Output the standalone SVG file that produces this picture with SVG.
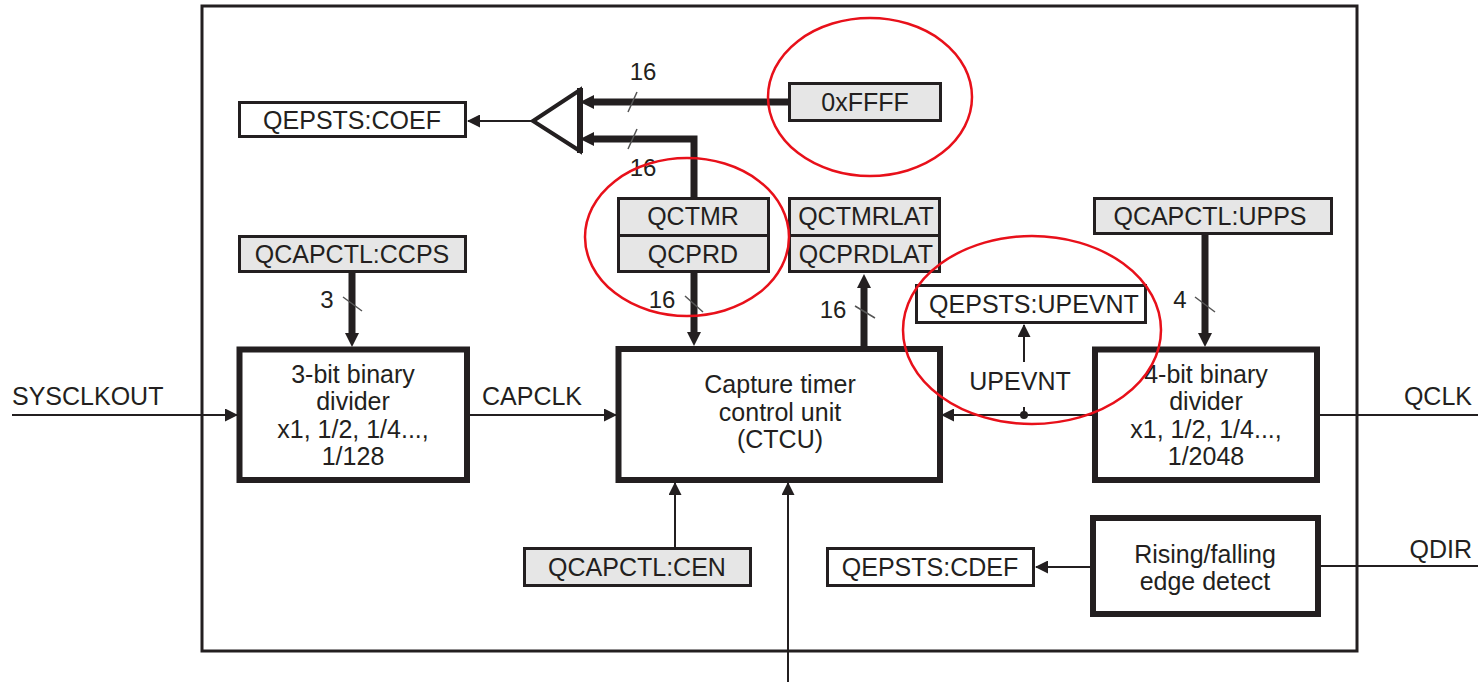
<svg xmlns="http://www.w3.org/2000/svg" width="1478" height="682" viewBox="0 0 1478 682">
<style>
text{font-family:"Liberation Sans",Arial,sans-serif;font-size:25px;fill:#231f20;text-anchor:middle}
.lbl{font-size:24px}
.st{text-anchor:start}
.en{text-anchor:end}
.reg{fill:#e6e6e6;stroke:#231f20;stroke-width:3}
.wreg{fill:#fff;stroke:#231f20;stroke-width:3}
.blk{fill:#fff;stroke:#231f20;stroke-width:6}
.thin{fill:none;stroke:#231f20;stroke-width:2}
.bus{fill:none;stroke:#231f20;stroke-width:7}
.tick{fill:none;stroke:#555;stroke-width:1.5}
.hl{fill:none;stroke:#e8101a;stroke-width:2.5}
</style>
<defs>
<marker id="a" viewBox="0 0 13 13" refX="12" refY="6.5" markerWidth="13" markerHeight="13" markerUnits="userSpaceOnUse" orient="auto"><path d="M0,0 L13,6.5 L0,13 z" fill="#231f20"/></marker>
<marker id="b" viewBox="0 0 14 14" refX="6" refY="7" markerWidth="14" markerHeight="14" markerUnits="userSpaceOnUse" orient="auto"><path d="M0,0 L14,7 L0,14 z" fill="#231f20"/></marker>
</defs>

<rect id="outer" x="202" y="6" width="1155" height="645" fill="none" stroke="#231f20" stroke-width="3"/>

<g id="coef"><rect class="wreg" x="239.5" y="102.5" width="226" height="34"/><text x="352" y="129">QEPSTS:COEF</text></g>
<g id="mux"><polygon points="580,90 580,151 533,121" fill="#fff" stroke="#231f20" stroke-width="4" stroke-linejoin="miter"/><line x1="580" y1="88" x2="580" y2="153" stroke="#231f20" stroke-width="6"/></g>
<g id="ffff"><rect class="reg" x="789.5" y="83.5" width="151" height="37"/><text x="865" y="111">0xFFFF</text></g>
<g id="qctmr"><rect class="reg" x="618.5" y="198.5" width="150" height="37"/><text x="693" y="225">QCTMR</text></g>
<g id="qcprd"><rect class="reg" x="618.5" y="235.5" width="150" height="36"/><text x="693" y="263">QCPRD</text></g>
<g id="qctmrlat"><rect class="reg" x="789.5" y="198.5" width="150" height="37"/><text x="866" y="225">QCTMRLAT</text></g>
<g id="qcprdlat"><rect class="reg" x="789.5" y="235.5" width="150" height="36"/><text x="866" y="263">QCPRDLAT</text></g>
<g id="ccps"><rect class="reg" x="239.5" y="236.5" width="226" height="35"/><text x="352" y="263">QCAPCTL:CCPS</text></g>
<g id="upps"><rect class="reg" x="1094.5" y="198.5" width="237" height="35"/><text x="1210" y="225">QCAPCTL:UPPS</text></g>
<g id="upevnt"><rect class="wreg" x="916.5" y="285.5" width="229" height="37"/><text x="1034" y="313">QEPSTS:UPEVNT</text></g>
<g id="div3"><rect class="blk" x="239.5" y="349.5" width="227.5" height="130.5"/><text x="353" y="383">3-bit binary</text><text x="353" y="410">divider</text><text x="353" y="438">x1, 1/2, 1/4...,</text><text x="353" y="465">1/128</text></g>
<g id="ctcu"><rect class="blk" x="618.5" y="349" width="321.5" height="131"/><text x="780" y="393">Capture timer</text><text x="780" y="421">control unit</text><text x="780" y="448">(CTCU)</text></g>
<g id="div4"><rect class="blk" x="1095" y="349.5" width="222" height="130.5"/><text x="1206" y="383">4-bit binary</text><text x="1206" y="410">divider</text><text x="1206" y="438">x1, 1/2, 1/4...,</text><text x="1206" y="465">1/2048</text></g>
<g id="cen"><rect class="reg" x="524.5" y="548.5" width="226" height="37"/><text x="637" y="576">QCAPCTL:CEN</text></g>
<g id="cdef"><rect class="wreg" x="827.5" y="548.5" width="206" height="37"/><text x="930" y="576">QEPSTS:CDEF</text></g>
<g id="edge"><rect class="blk" x="1093" y="518" width="225" height="96"/><text x="1205" y="563">Rising/falling</text><text x="1205" y="590">edge detect</text></g>

<g id="connectors">
<path class="bus" d="M788,102 H588" marker-end="url(#b)"/>
<path class="bus" d="M694,198 V139 H588" marker-end="url(#b)"/>
<path class="bus" d="M694,272 V338" marker-end="url(#b)"/>
<path class="bus" d="M864,348 V282" marker-end="url(#b)"/>
<path class="bus" d="M352,273 V339" marker-end="url(#b)"/>
<path class="bus" d="M1205,234 V339" marker-end="url(#b)"/>
<path class="thin" d="M533,121 H468" marker-end="url(#a)"/>
<path class="thin" d="M12,415 H237" marker-end="url(#a)"/>
<path class="thin" d="M468,415 H616" marker-end="url(#a)"/>
<path class="thin" d="M1093,415 H942" marker-end="url(#a)"/>
<path class="thin" d="M1024,415 V407"/>
<path class="thin" d="M1024,362 V325" marker-end="url(#a)"/>
<circle cx="1024" cy="415" r="4" fill="#231f20"/>
<path class="thin" d="M675,547 V483" marker-end="url(#a)"/>
<path class="thin" d="M788,682 V483" marker-end="url(#a)"/>
<path class="thin" d="M1093,567 H1036" marker-end="url(#a)"/>
<path class="thin" d="M1319,415 H1478"/>
<path class="thin" d="M1318,566 H1478"/>
<path class="tick" d="M637,92 L628,112 M637,129 L628,149 M685,296 L703,312 M855,306 L875,318 M343,297 L362,311 M1195,297 L1215,312"/>
</g>

<g id="labels">
<text class="st" x="482" y="405">CAPCLK</text>
<text class="st" x="12" y="405">SYSCLKOUT</text>
<text class="en" x="1472" y="405">QCLK</text>
<text class="en" x="1472" y="558">QDIR</text>
<text x="1020" y="390">UPEVNT</text>
<text class="lbl" x="643" y="80">16</text>
<text class="lbl" x="643" y="176">16</text>
<text class="lbl" x="662" y="308">16</text>
<text class="lbl" x="833" y="318">16</text>
<text class="lbl" x="327" y="308">3</text>
<text class="lbl" x="1180" y="308">4</text>
</g>

<g id="highlights">
<ellipse class="hl" cx="870" cy="97" rx="102" ry="79"/>
<ellipse class="hl" cx="687" cy="237" rx="102" ry="79"/>
<ellipse class="hl" cx="1032" cy="330" rx="129" ry="94"/>
</g>
</svg>
